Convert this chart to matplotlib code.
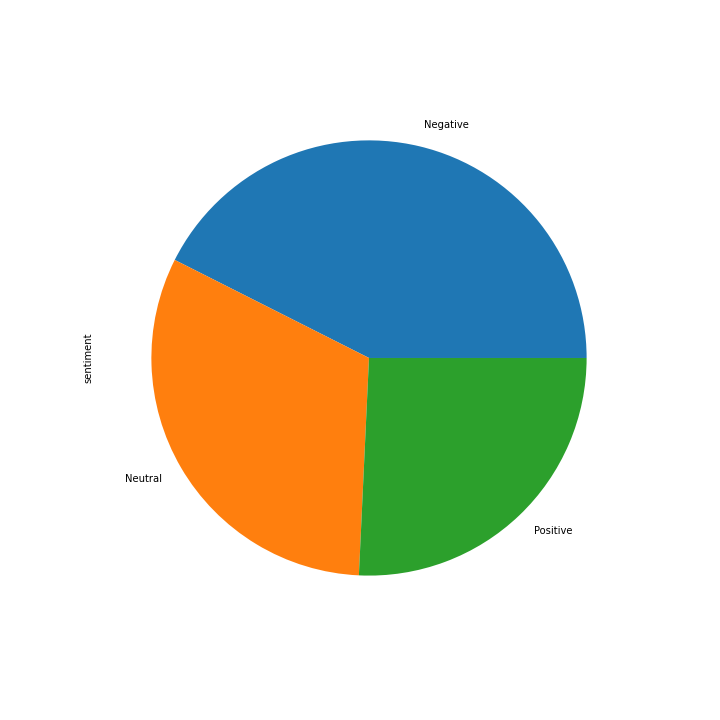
import matplotlib
matplotlib.use("Agg")
import matplotlib.pyplot as plt
import pandas as pd

labels = ["Negative", "Neutral", "Positive"]
counts = [4256, 3170, 2574]

s = pd.Series(counts, index=labels, name="sentiment")

fig, ax = plt.subplots(figsize=(10, 10), dpi=72)
s.plot.pie(ax=ax)
ax.set_position([0.1347, 0.125, 0.7556, 0.7556])
fig.savefig("out.png", dpi=72)
